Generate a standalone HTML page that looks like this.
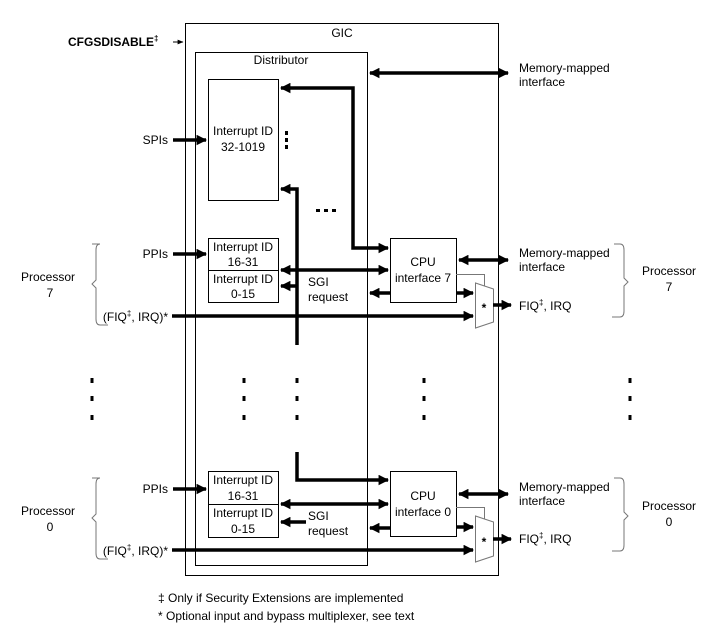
<!DOCTYPE html>
<html><head><meta charset="utf-8"><style>body{margin:0;background:#fff}svg{display:block}text{font-family:"Liberation Sans",Arial,sans-serif;font-size:12px;fill:#000}</style></head><body>
<svg width="724" height="632" viewBox="0 0 724 632" xmlns="http://www.w3.org/2000/svg">
<defs>
<marker id="a" viewBox="0 0 10 10" refX="9" refY="5" markerWidth="3" markerHeight="3" orient="auto-start-reverse"><path d="M0,0L10,5L0,10z"/></marker>
<marker id="s" viewBox="0 0 10 10" refX="9" refY="5" markerWidth="6" markerHeight="6" orient="auto"><path d="M0,1L10,5L0,9z"/></marker>
<g id="d"><rect x="-1.5" y="0" width="3" height="5"/><rect x="-1.5" y="18" width="3" height="5"/><rect x="-1.5" y="37" width="3" height="5"/></g>
</defs>
<g fill="none" stroke="#000" stroke-width="1">
<rect x="185.5" y="23.5" width="313" height="552"/>
<rect x="195.5" y="52.5" width="172" height="513"/>
<rect x="208.5" y="79.5" width="70" height="121"/>
<rect x="208.5" y="238.5" width="70" height="32"/>
<rect x="208.5" y="270.5" width="70" height="32"/>
<rect x="208.5" y="471.5" width="70" height="33"/>
<rect x="208.5" y="504.5" width="70" height="33"/>
<rect x="390.5" y="238.5" width="66" height="64"/>
<rect x="390.5" y="471.5" width="66" height="65"/>
</g>
<g fill="none" stroke="#777" stroke-width="1">
<path d="M475.5,283 L493.5,289 L493.5,322 L475.5,328z"/>
<path d="M475.5,516 L493.5,522 L493.5,556 L475.5,562z"/>
<path d="M456,274.5H484.5V286"/>
<path d="M456,507.5H484.5V519"/>
<path d="M92,244h8q-4,0-4,6v30l-4,4 4,4v31q0,6 4,6h8" />
<path d="M92,478h8q-4,0-4,6v30l-4,4 4,4v31q0,6 4,6h8" />
<path d="M620,244h-6 M620,244q4,0 4,6v28l4,4-4,4v25q0,6-4,6h-8"/>
<path d="M620,478h-6 M620,478q4,0 4,6v28l4,4-4,4v25q0,6-4,6h-8"/>
</g>
<g fill="none" stroke="#000" stroke-width="3.5">
<path d="M173,140H206" marker-end="url(#a)"/>
<path d="M173,254H206" marker-end="url(#a)"/>
<path d="M173,489H206" marker-end="url(#a)"/>
<path d="M172,316H473" marker-end="url(#a)"/>
<path d="M172,550H473" marker-end="url(#a)"/>
<path d="M370,73H508" marker-start="url(#a)" marker-end="url(#a)"/>
<path d="M281,88H353V248H388" marker-start="url(#a)" marker-end="url(#a)"/>
<path d="M297,345V189H281" marker-end="url(#a)"/>
<path d="M297,452V480H388" marker-end="url(#a)"/>
<path d="M281,270H388" marker-start="url(#a)" marker-end="url(#a)"/>
<path d="M281,504H388" marker-start="url(#a)" marker-end="url(#a)"/>
<path d="M297,286H281" marker-end="url(#a)"/>
<path d="M306,522H281" marker-end="url(#a)"/>
<path d="M390,293H370" marker-end="url(#a)"/>
<path d="M390,528H370" marker-end="url(#a)"/>
<path d="M456,293H473" marker-end="url(#a)"/>
<path d="M456,527H473" marker-end="url(#a)"/>
<path d="M459,260H508" marker-start="url(#a)" marker-end="url(#a)"/>
<path d="M459,494H508" marker-start="url(#a)" marker-end="url(#a)"/>
<path d="M493,305H511" marker-end="url(#a)"/>
<path d="M493,539H511" marker-end="url(#a)"/>
</g>
<path d="M173,42H183" stroke="#000" stroke-width="1" marker-end="url(#s)"/>
<g fill="#000">
<rect x="285" y="131" width="3" height="4"/><rect x="285" y="138" width="3" height="4"/><rect x="285" y="145" width="3" height="4"/>
<rect x="316" y="209" width="4" height="3"/><rect x="324" y="209" width="4" height="3"/><rect x="332" y="209" width="4" height="3"/>
<use href="#d" x="92" y="378"/><use href="#d" x="244" y="378"/><use href="#d" x="297" y="378"/><use href="#d" x="424" y="378"/><use href="#d" x="630" y="378"/>
</g>
<text x="68" y="46" font-weight="bold">CFGSDISABLE<tspan font-size="8" dy="-5">‡</tspan></text>
<text x="342" y="37" text-anchor="middle">GIC</text>
<text x="281" y="64" text-anchor="middle">Distributor</text>
<text x="243" y="135" text-anchor="middle">Interrupt ID</text><text x="243" y="151" text-anchor="middle">32-1019</text>
<text x="243" y="251" text-anchor="middle">Interrupt ID</text><text x="243" y="266" text-anchor="middle">16-31</text>
<text x="243" y="283" text-anchor="middle">Interrupt ID</text><text x="243" y="298" text-anchor="middle">0-15</text>
<text x="243" y="484" text-anchor="middle">Interrupt ID</text><text x="243" y="500" text-anchor="middle">16-31</text>
<text x="243" y="517" text-anchor="middle">Interrupt ID</text><text x="243" y="533" text-anchor="middle">0-15</text>
<text x="308" y="286">SGI</text><text x="308" y="301">request</text>
<text x="308" y="520">SGI</text><text x="308" y="535">request</text>
<text x="423" y="266" text-anchor="middle">CPU</text><text x="423" y="282" text-anchor="middle">interface 7</text>
<text x="423" y="500" text-anchor="middle">CPU</text><text x="423" y="516" text-anchor="middle">interface 0</text>
<text x="484" y="312" text-anchor="middle" font-weight="bold" font-size="13">*</text><text x="484" y="546" text-anchor="middle" font-weight="bold" font-size="13">*</text>
<text x="168" y="144" text-anchor="end">SPIs</text>
<text x="168" y="258" text-anchor="end">PPIs</text>
<text x="168" y="493" text-anchor="end">PPIs</text>
<text x="168" y="321" text-anchor="end">(FIQ<tspan font-size="8" dy="-5">‡</tspan><tspan dy="5">, IRQ)*</tspan></text>
<text x="168" y="555" text-anchor="end">(FIQ<tspan font-size="8" dy="-5">‡</tspan><tspan dy="5">, IRQ)*</tspan></text>
<text x="48" y="281" text-anchor="middle">Processor</text><text x="50" y="297" text-anchor="middle">7</text>
<text x="48" y="515" text-anchor="middle">Processor</text><text x="50" y="531" text-anchor="middle">0</text>
<text x="519" y="72">Memory-mapped</text><text x="519" y="86">interface</text>
<text x="519" y="257">Memory-mapped</text><text x="519" y="271">interface</text>
<text x="519" y="491">Memory-mapped</text><text x="519" y="505">interface</text>
<text x="519" y="310">FIQ<tspan font-size="8" dy="-5">‡</tspan><tspan dy="5">, IRQ</tspan></text>
<text x="519" y="543">FIQ<tspan font-size="8" dy="-5">‡</tspan><tspan dy="5">, IRQ</tspan></text>
<text x="669" y="275" text-anchor="middle">Processor</text><text x="669" y="291" text-anchor="middle">7</text>
<text x="669" y="510" text-anchor="middle">Processor</text><text x="669" y="526" text-anchor="middle">0</text>
<text x="158" y="602">‡ Only if Security Extensions are implemented</text>
<text x="158" y="620">* Optional input and bypass multiplexer, see text</text>
</svg>
</body></html>
